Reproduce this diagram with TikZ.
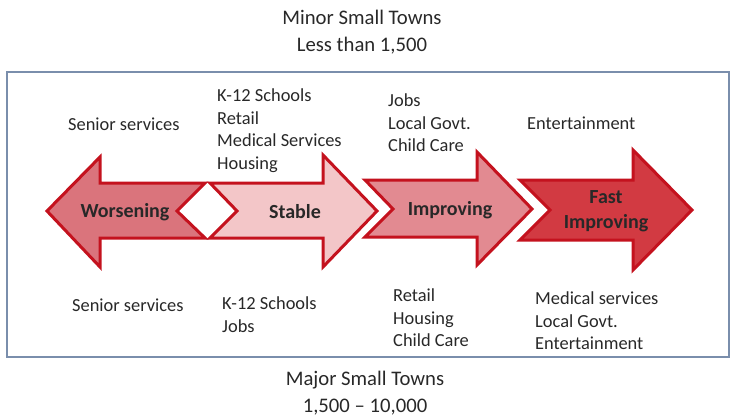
\documentclass[tikz,border=0pt]{standalone}
\usepackage{fontspec}
\setmainfont{Carlito}
\usepackage{tikz}
\usepackage{xcolor}
\definecolor{arrowred}{RGB}{196,18,30}
\definecolor{framegrey}{RGB}{122,142,172}
\definecolor{textgrey}{RGB}{40,40,40}
\definecolor{worsefill}{RGB}{218,116,124}
\definecolor{stablefill}{RGB}{243,198,200}
\definecolor{improvefill}{RGB}{226,138,145}
\definecolor{fastfill}{RGB}{210,58,66}
\tikzstyle{frame} = [draw=framegrey, line width=1.6pt]
\tikzstyle{bigarrow} = [draw=arrowred, line width=3pt, line join=miter]
\tikzstyle{arrowlabel} = [align=center, text=textgrey, inner sep=0pt, font=\bfseries\fontsize{20}{24.5}\selectfont]
\tikzstyle{townlist} = [anchor=north west, align=left, text=textgrey, inner sep=0pt, font=\fontsize{18.4}{22.5}\selectfont]
\tikzstyle{townsize} = [align=center, text=textgrey, inner sep=0pt, font=\fontsize{20.7}{26.5}\selectfont]

\begin{document}
\begin{tikzpicture}[x=1pt, y=-1pt]
        \useasboundingbox (0,0) rectangle (731,417);
        \draw [frame] (7,72) rectangle (729,357);

        \node (minor) [townsize] at (362,32) {Minor Small Towns\\Less than 1,500};
        \node (major) [townsize] at (365,393) {Major Small Towns\\1,500 -- 10,000};

        % arrows
        \draw [bigarrow, fill=worsefill] (47,211) -- (100,157) -- (100,183) -- (205,183) -- (177,211) -- (205,238) -- (100,238) -- (100,267) -- cycle;
        \draw [bigarrow, fill=stablefill] (210,183) -- (323,183) -- (323,155) -- (377,211) -- (323,267) -- (323,238) -- (210,238) -- (237,211) -- cycle;
        \draw [bigarrow, fill=improvefill] (365,180) -- (477,180) -- (477,152) -- (532,209) -- (477,265) -- (477,237) -- (365,237) -- (393,209) -- cycle;
        \draw [bigarrow, fill=fastfill] (520,180) -- (633,180) -- (633,150) -- (692,210) -- (633,270) -- (633,240) -- (520,240) -- (550,210) -- cycle;

        \node (worsening) [arrowlabel] at (125,212) {Worsening};
        \node (stable) [arrowlabel] at (295,212) {Stable};
        \node (improving) [arrowlabel] at (450,210) {Improving};
        \node (fast) [arrowlabel] at (606,211) {Fast\\Improving};

        % minor towns (above)
        \node (minorsenior) [townlist] at (68,118) {Senior services};
        \node (minorstable) [townlist] at (217,89) {K-12 Schools\\Retail\\Medical Services\\Housing};
        \node (minorimprove) [townlist] at (388,94) {Jobs\\Local Govt.\\Child Care};
        \node (minorfast) [townlist] at (527,117) {Entertainment};

        % major towns (below)
        \node (majorsenior) [townlist] at (72,299) {Senior services};
        \node (majorstable) [townlist] at (222,297) {K-12 Schools\\Jobs};
        \node (majorimprove) [townlist] at (393,289) {Retail\\Housing\\Child Care};
        \node (majorfast) [townlist] at (535,292) {Medical services\\Local Govt.\\Entertainment};

    \end{tikzpicture}
\end{document}
